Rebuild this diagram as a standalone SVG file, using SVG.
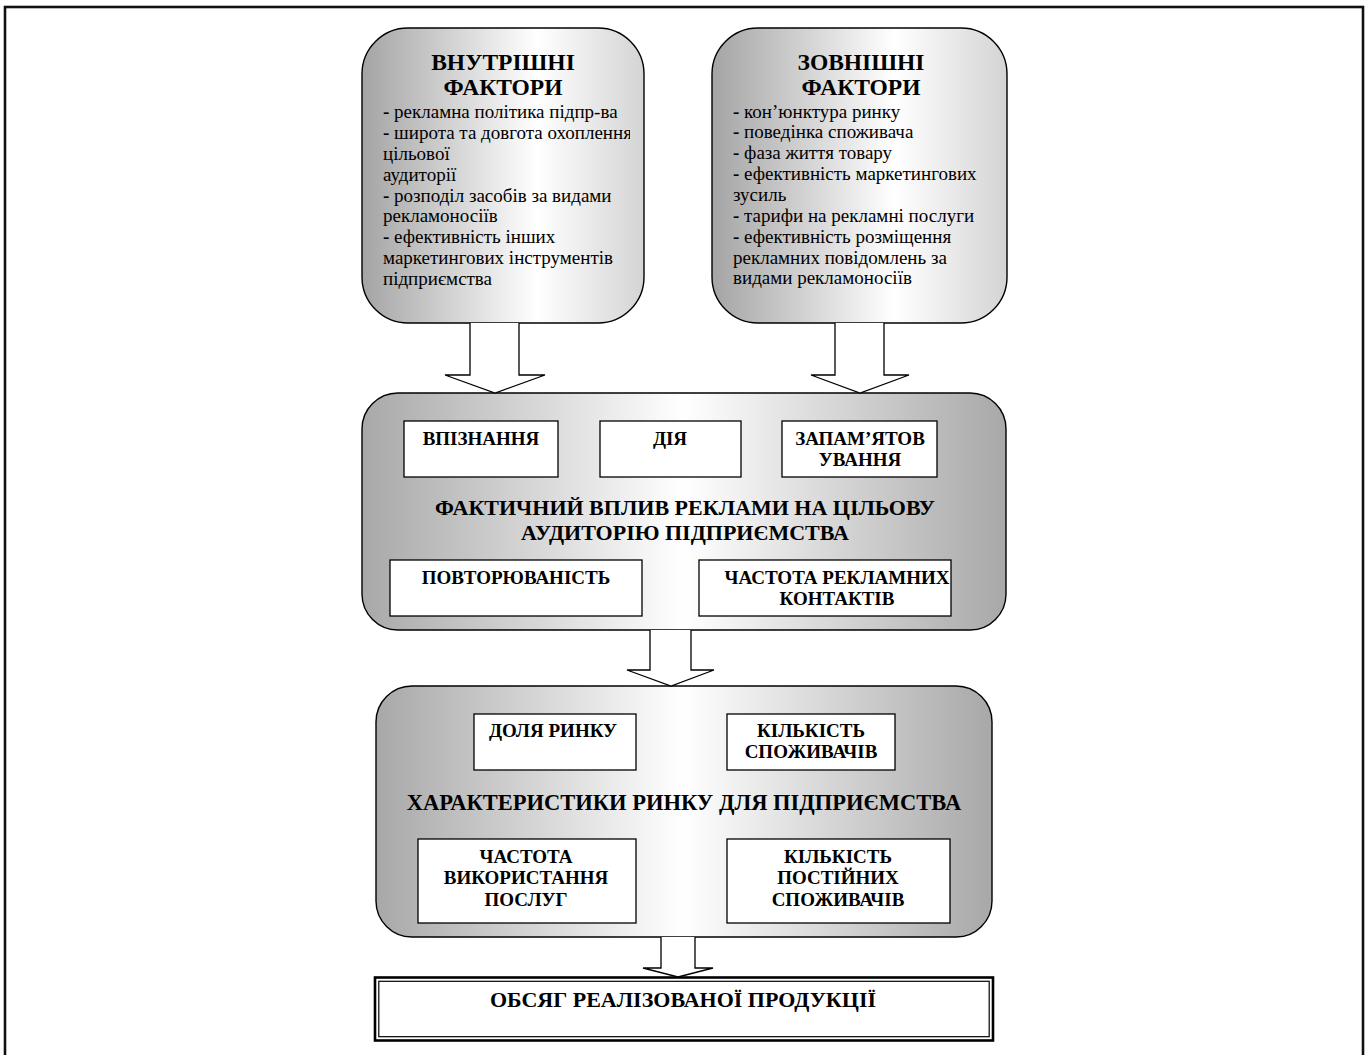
<svg xmlns="http://www.w3.org/2000/svg" width="1367" height="1055" viewBox="0 0 1367 1055">
  <defs>
    <linearGradient id="gradTop" x1="0" y1="0" x2="1" y2="0">
      <stop offset="0" stop-color="#a4a4a4"/>
      <stop offset="0.62" stop-color="#ffffff"/>
      <stop offset="1" stop-color="#d4d4d4"/>
    </linearGradient>
    <linearGradient id="gradMid" x1="0" y1="0" x2="1" y2="0">
      <stop offset="0" stop-color="#a8a8a8"/>
      <stop offset="0.5" stop-color="#ffffff"/>
      <stop offset="1" stop-color="#a8a8a8"/>
    </linearGradient>
    <clipPath id="clipLeftText">
      <rect x="362" y="28" width="268" height="295"/>
    </clipPath>
  </defs>
  <style>
    .frame { fill: none; stroke: #111; stroke-width: 2.6; }
    .round { stroke: #000; stroke-width: 1.4; }
    .cell { fill: #fff; stroke: #000; stroke-width: 1.3; }
    .arrow { fill: #fff; stroke: #000; stroke-width: 1.3; stroke-linejoin: miter; }
    .title { font-family: "Liberation Serif", "Times New Roman", serif; font-weight: bold; fill: #000; text-anchor: middle; }
    .body { font-family: "Liberation Serif", "Times New Roman", serif; font-size: 19px; fill: #000; }
    .dash { font-weight: bold; }
    .h1 { font-size: 23.5px; }
    .h2 { font-size: 22px; }
    .h3 { font-size: 22.5px; }
    .lbl { font-size: 19px; }
  </style>

  <rect width="1367" height="1055" fill="#fff"/>
  <!-- page frame, open at the bottom edge -->
  <rect class="frame" x="5" y="7" width="1358" height="1070"/>

  <!-- internal factors -->
  <g id="internal-factors">
    <rect class="round" x="362" y="28" width="282" height="295" rx="46" ry="46" fill="url(#gradTop)"/>
    <text class="title h1" x="503" y="70">ВНУТРІШНІ</text>
    <text class="title h1" x="503" y="95">ФАКТОРИ</text>
    <g class="body" clip-path="url(#clipLeftText)">
      <text x="383" y="118"><tspan class="dash">-</tspan> рекламна політика підпр-ва</text>
      <text x="383" y="139"><tspan class="dash">-</tspan> широта та довгота охоплення</text>
      <text x="383" y="160">цільової</text>
      <text x="383" y="181">аудиторії</text>
      <text x="383" y="202"><tspan class="dash">-</tspan> розподіл засобів за видами</text>
      <text x="383" y="222">рекламоносіїв</text>
      <text x="383" y="243"><tspan class="dash">-</tspan> ефективність інших</text>
      <text x="383" y="264">маркетингових інструментів</text>
      <text x="383" y="285">підприємства</text>
    </g>
  </g>

  <!-- external factors -->
  <g id="external-factors">
    <rect class="round" x="712" y="28" width="295" height="295" rx="46" ry="46" fill="url(#gradTop)"/>
    <text class="title h1" x="861" y="70">ЗОВНІШНІ</text>
    <text class="title h1" x="861" y="95">ФАКТОРИ</text>
    <g class="body">
      <text x="733" y="118"><tspan class="dash">-</tspan> кон’юнктура ринку</text>
      <text x="733" y="138"><tspan class="dash">-</tspan> поведінка споживача</text>
      <text x="733" y="159"><tspan class="dash">-</tspan> фаза життя товару</text>
      <text x="733" y="180"><tspan class="dash">-</tspan> ефективність маркетингових</text>
      <text x="733" y="201">зусиль</text>
      <text x="733" y="222"><tspan class="dash">-</tspan> тарифи на рекламні послуги</text>
      <text x="733" y="243"><tspan class="dash">-</tspan> ефективність розміщення</text>
      <text x="733" y="264">рекламних повідомлень за</text>
      <text x="733" y="284">видами рекламоносіїв</text>
    </g>
  </g>

  <!-- actual advertising impact -->
  <g id="impact">
    <rect class="round" x="362" y="393" width="644" height="237" rx="36" ry="36" fill="url(#gradMid)"/>
    <text class="title h2" x="685" y="515">ФАКТИЧНИЙ ВПЛИВ РЕКЛАМИ НА ЦІЛЬОВУ</text>
    <text class="title h2" x="685" y="540">АУДИТОРІЮ ПІДПРИЄМСТВА</text>
  </g>
  <g id="recognition">
    <rect class="cell" x="404" y="421" width="154" height="56"/>
    <text class="title lbl" x="481" y="445">ВПІЗНАННЯ</text>
  </g>
  <g id="action">
    <rect class="cell" x="600" y="421" width="141" height="56"/>
    <text class="title lbl" x="670" y="445">ДІЯ</text>
  </g>
  <g id="recall">
    <rect class="cell" x="782" y="421" width="155" height="56"/>
    <text class="title lbl" x="860" y="445">ЗАПАМ’ЯТОВ</text>
    <text class="title lbl" x="860" y="466">УВАННЯ</text>
  </g>
  <g id="repetition">
    <rect class="cell" x="390" y="560" width="252" height="56"/>
    <text class="title lbl" x="516" y="584">ПОВТОРЮВАНІСТЬ</text>
  </g>
  <g id="contact-frequency">
    <rect class="cell" x="699" y="560" width="252" height="56"/>
    <text class="title lbl" x="837" y="584">ЧАСТОТА РЕКЛАМНИХ</text>
    <text class="title lbl" x="837" y="605">КОНТАКТІВ</text>
  </g>

  <!-- market characteristics -->
  <g id="market">
    <rect class="round" x="376" y="686" width="616" height="251" rx="36" ry="36" fill="url(#gradMid)"/>
    <text class="title h3" x="684" y="810">ХАРАКТЕРИСТИКИ РИНКУ ДЛЯ ПІДПРИЄМСТВА</text>
  </g>
  <g id="market-share">
    <rect class="cell" x="474" y="714" width="162" height="56"/>
    <text class="title lbl" x="553" y="737">ДОЛЯ РИНКУ</text>
  </g>
  <g id="consumers">
    <rect class="cell" x="727" y="714" width="168" height="56"/>
    <text class="title lbl" x="811" y="737">КІЛЬКІСТЬ</text>
    <text class="title lbl" x="811" y="758">СПОЖИВАЧІВ</text>
  </g>
  <g id="usage-frequency">
    <rect class="cell" x="418" y="839" width="218" height="84"/>
    <text class="title lbl" x="526" y="863">ЧАСТОТА</text>
    <text class="title lbl" x="526" y="884">ВИКОРИСТАННЯ</text>
    <text class="title lbl" x="526" y="906">ПОСЛУГ</text>
  </g>
  <g id="regular-consumers">
    <rect class="cell" x="727" y="839" width="223" height="84"/>
    <text class="title lbl" x="838" y="863">КІЛЬКІСТЬ</text>
    <text class="title lbl" x="838" y="884">ПОСТІЙНИХ</text>
    <text class="title lbl" x="838" y="906">СПОЖИВАЧІВ</text>
  </g>

  <!-- sales volume (thick-thin double border) -->
  <g id="sales-volume">
    <rect x="375" y="977.5" width="618" height="63" fill="#fff" stroke="#000" stroke-width="2.6"/>
    <rect x="378.8" y="981.3" width="610.4" height="55.4" fill="none" stroke="#000" stroke-width="1.2"/>
    <text class="title h2" x="683" y="1007">ОБСЯГ РЕАЛІЗОВАНОЇ ПРОДУКЦІЇ</text>
  </g>

  <!-- block arrows -->
  <g id="connectors">
    <path class="arrow" d="M470,323 V375 H445 L495,393 L545,375 H519 V323"/>
    <path class="arrow" d="M835,323 V375 H811 L860,393 L909,375 H884 V323"/>
    <path class="arrow" d="M650,630 V670 H627 L671,686 L714,670 H691 V630"/>
    <path class="arrow" d="M661,937 V968 H643 L678,977 L713,968 H695 V937"/>
  </g>
</svg>
